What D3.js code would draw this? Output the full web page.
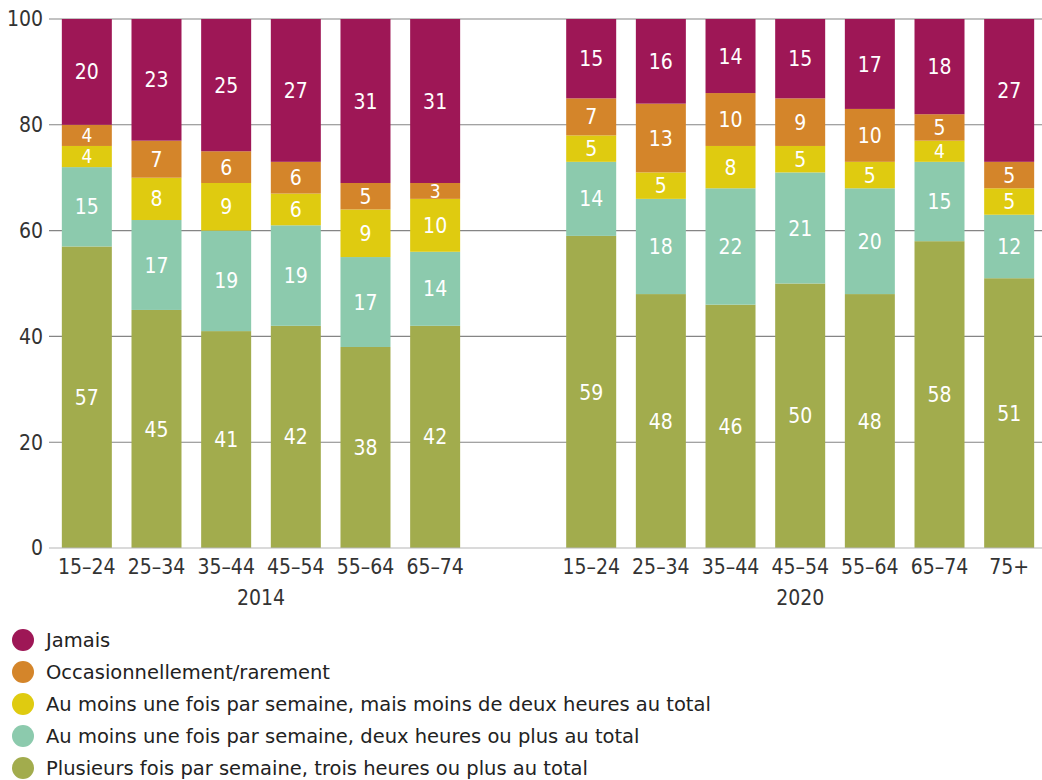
<!DOCTYPE html>
<html>
<head>
<meta charset="utf-8">
<script src="https://cdn.jsdelivr.net/npm/d3@7"></script>
<style>
  body { margin: 0; background: #fff; }
  svg { display: block; font-family: "DejaVu Sans Condensed", "DejaVu Sans", sans-serif; }
  .legend text { font-family: "DejaVu Sans", sans-serif; }
</style>
</head>
<body>
<svg id="chart" width="1042" height="780"></svg>
<script>
// categories
const ages2014 = ["15–24", "25–34", "35–44", "45–54", "55–64", "65–74"];
const ages2020 = ["15–24", "25–34", "35–44", "45–54", "55–64", "65–74", "75+"];
const years = ["2014", "2020"];
const seriesNames = [
  "Plusieurs fois par semaine, trois heures ou plus au total",
  "Au moins une fois par semaine, deux heures ou plus au total",
  "Au moins une fois par semaine, mais moins de deux heures au total",
  "Occasionnellement/rarement",
  "Jamais"
];
const seriesColors = ["#a2ac4d", "#8ccaad", "#dfcb10", "#d4852a", "#9e1756"];

// values, bottom to top (same order as seriesNames)
const plusieurs2014 = [57, 45, 41, 42, 38, 42];
const deuxHeures2014 = [15, 17, 19, 19, 17, 14];
const moinsDeux2014 = [4, 8, 9, 6, 9, 10];
const occasion2014 = [4, 7, 6, 6, 5, 3];
const jamais2014 = [20, 23, 25, 27, 31, 31];

const plusieurs2020 = [59, 48, 46, 50, 48, 58, 51];
const deuxHeures2020 = [14, 18, 22, 21, 20, 15, 12];
const moinsDeux2020 = [5, 5, 8, 5, 5, 4, 5];
const occasion2020 = [7, 13, 10, 9, 10, 5, 5];
const jamais2020 = [15, 16, 14, 15, 17, 18, 27];

const yTicks = [0, 20, 40, 60, 80, 100];

// build rows
const rows = [];
ages2014.forEach((a, i) => rows.push({
  year: "2014", age: a, slot: i,
  vals: [plusieurs2014[i], deuxHeures2014[i], moinsDeux2014[i], occasion2014[i], jamais2014[i]]
}));
const groupGap = 1.24; // extra empty space between the two years, in slots
ages2020.forEach((a, i) => rows.push({
  year: "2020", age: a, slot: ages2014.length + groupGap + i,
  vals: [plusieurs2020[i], deuxHeures2020[i], moinsDeux2020[i], occasion2020[i], jamais2020[i]]
}));
rows.forEach(r => { seriesNames.forEach((s, k) => r[s] = r.vals[k]); });

const margin = { top: 19, left: 52, right: 0 };
const plotBottom = 548;
const svg = d3.select("#chart");
const W = +svg.attr("width");

const nSlots = ages2014.length + groupGap + ages2020.length;
const x = d3.scaleLinear().domain([0, nSlots]).range([margin.left, W - margin.right + 2]);
const slotW = x(1) - x(0);
const barW = 50;
const y = d3.scaleLinear().domain([0, 100]).range([plotBottom, margin.top]);

// grid
svg.append("g").selectAll("line")
  .data(yTicks.filter(t => t > 0))
  .join("line")
  .attr("x1", 49).attr("x2", W)
  .attr("y1", d => y(d)).attr("y2", d => y(d))
  .attr("stroke", "#858585").attr("stroke-width", 1.1);

// y labels
svg.append("g").selectAll("text")
  .data(yTicks)
  .join("text")
  .attr("x", 43).attr("y", d => y(d))
  .attr("dy", "0.35em")
  .attr("text-anchor", "end")
  .attr("font-size", 21)
  .attr("fill", "#333")
  .text(d => d);

// stacked bars
const stack = d3.stack().keys(seriesNames);
const stacked = stack(rows);

const layers = svg.append("g").selectAll("g")
  .data(stacked)
  .join("g")
  .attr("fill", (d, i) => seriesColors[i]);

layers.selectAll("rect")
  .data(d => d)
  .join("rect")
  .attr("x", d => x(d.data.slot) + slotW / 2 - barW / 2)
  .attr("width", barW)
  .attr("y", d => y(d[1]))
  .attr("height", d => y(d[0]) - y(d[1]));

layers.selectAll("text")
  .data(d => d)
  .join("text")
  .attr("x", d => x(d.data.slot) + slotW / 2)
  .attr("y", d => (y(d[0]) + y(d[1])) / 2)
  .attr("dy", "0.36em")
  .attr("text-anchor", "middle")
  .attr("font-size", d => (d[1] - d[0]) <= 4 ? 19 : 21)
  .attr("fill", "#fff")
  .text(d => d[1] - d[0]);

// baseline
svg.append("line")
  .attr("x1", 49).attr("x2", W)
  .attr("y1", y(0)).attr("y2", y(0))
  .attr("stroke", "#b5b5b5").attr("stroke-width", 1.2);

// x labels
svg.append("g").selectAll("text")
  .data(rows)
  .join("text")
  .attr("x", d => x(d.slot) + slotW / 2)
  .attr("y", 567)
  .attr("dy", "0.35em")
  .attr("text-anchor", "middle")
  .attr("font-size", 21)
  .attr("fill", "#333")
  .text(d => d.age);

// year labels
svg.append("g").selectAll("text")
  .data(years)
  .join("text")
  .attr("x", yr => {
    const r = rows.filter(d => d.year === yr);
    return (x(r[0].slot) + x(r[r.length - 1].slot + 1)) / 2;
  })
  .attr("y", 598)
  .attr("dy", "0.35em")
  .attr("text-anchor", "middle")
  .attr("font-size", 21)
  .attr("fill", "#333")
  .text(d => d);

// legend, top item is Jamais
const legendItems = seriesNames.map((s, i) => ({ name: s, color: seriesColors[i] })).reverse();
const legend = svg.append("g").attr("class", "legend").selectAll("g")
  .data(legendItems)
  .join("g")
  .attr("transform", (d, i) => `translate(23, ${640 + i * 32})`);
legend.append("circle").attr("r", 11).attr("fill", d => d.color);
legend.append("text")
  .attr("x", 23).attr("dy", "0.35em")
  .attr("font-size", 19.5)
  .attr("fill", "#222")
  .text(d => d.name);
</script>
</body>
</html>
